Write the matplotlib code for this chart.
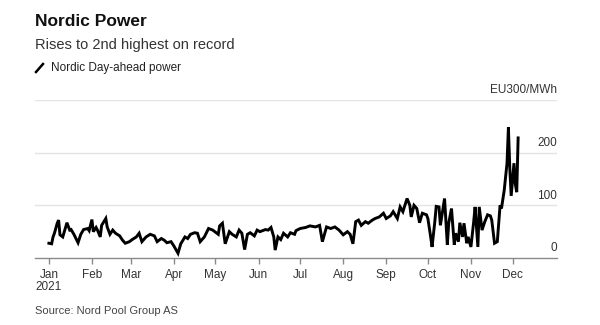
import datetime as dt
import matplotlib
matplotlib.use("Agg")
import matplotlib.pyplot as plt
import matplotlib.dates as mdates
import matplotlib.transforms as mtransforms
import matplotlib.lines as mlines

plt.rcParams["font.family"] = ["Liberation Sans", "DejaVu Sans"]

# Nordic day-ahead power, EUR/MWh (day offset from 2021-01-01)
day_offsets = [
    0, 2, 3, 4, 6, 7, 8, 10, 13, 15, 16, 18, 21, 23, 25, 28, 29, 31, 32, 34,
    35, 37, 38, 41, 42, 44, 46, 48, 51, 53, 55, 58, 60, 63, 65, 67, 70, 73, 76, 78,
    81, 83, 85, 88, 90, 93, 95, 98, 100, 102, 105, 107, 109, 112, 115, 118, 122, 123, 125, 127,
    130, 132, 135, 137, 139, 141, 143, 145, 148, 150, 152, 156, 158, 160, 162, 163, 165, 167, 169, 172,
    174, 177, 178, 181, 185, 188, 192, 195, 197, 200, 203, 206, 209, 212, 215, 217, 219, 221, 223, 225,
    228, 230, 233, 235, 238, 241, 243, 246, 248, 251, 253, 255, 258, 260, 261, 263, 265, 267, 269, 272,
    273, 275, 276, 278, 279, 281, 282, 285, 287, 288, 290, 292, 293, 295, 296, 298, 299, 301, 302, 304,
    306, 307, 309, 310, 312, 314, 316, 318, 319, 321, 323, 325, 326, 328, 330, 331, 332, 333, 335, 336,
    337, 338,
]
prices = [
    28, 27, 40, 47, 66, 72, 44, 40, 67, 53, 54, 45, 29, 45, 54, 56, 52, 73, 50, 58,
    53, 40, 62, 75, 59, 45, 53, 47, 42, 34, 28, 31, 35, 40, 47, 31, 40, 45, 42, 31,
    37, 34, 29, 31, 23, 9, 27, 40, 37, 45, 48, 47, 31, 40, 56, 53, 45, 61, 66, 27,
    50, 45, 40, 53, 47, 16, 45, 48, 42, 53, 50, 54, 53, 58, 40, 15, 40, 35, 47, 40,
    48, 45, 52, 56, 58, 61, 59, 62, 31, 59, 56, 59, 53, 44, 50, 45, 27, 69, 72, 62,
    69, 66, 72, 75, 78, 85, 75, 80, 88, 75, 97, 88, 113, 100, 78, 100, 94, 67, 85, 82,
    75, 40, 21, 69, 98, 97, 62, 113, 25, 66, 94, 25, 47, 31, 67, 40, 66, 28, 40, 21,
    69, 97, 21, 97, 53, 69, 82, 80, 72, 28, 31, 100, 94, 129, 180, 248, 170, 118, 180, 140,
    125, 228,
]

month_labels = ["Jan", "Feb", "Mar", "Apr", "May", "Jun",
                "Jul", "Aug", "Sep", "Oct", "Nov", "Dec"]
y_levels = [0, 100, 200, 300]
y_labels = ["0", "100", "200", "EU300/MWh"]

start = dt.date(2021, 1, 1)
dates = [start + dt.timedelta(days=d) for d in day_offsets]

fig = plt.figure(figsize=(6, 3.25), dpi=100)
ax = fig.add_axes([35 / 600, 67 / 325, 522 / 600, 158 / 325])

ax.set_ylim(0, 300)
ax.set_xlim(start - dt.timedelta(days=10.8), start + dt.timedelta(days=366.6))

for v in y_levels[1:]:
    ax.axhline(v, color="#e3e3e3", lw=1.0, zorder=1)

ax.plot(dates, prices, color="black", lw=2.1, solid_joinstyle="miter", zorder=3)

# y labels sit above their gridlines, right aligned
trans = mtransforms.blended_transform_factory(ax.transAxes, ax.transData)
for v, lab in zip(y_levels, y_labels):
    ax.text(1.0, v + 7, lab, transform=trans, ha="right", va="bottom",
            fontsize=8.5, color="#333333")

for s in ["top", "right", "left"]:
    ax.spines[s].set_visible(False)
ax.spines["bottom"].set_color("#8a8a8a")
ax.spines["bottom"].set_linewidth(1.0)
ax.set_yticks([])

month_ticks = [dt.date(2021, m, 1) for m in range(1, 13)]
ax.set_xticks(month_ticks)
ax.set_xticklabels(month_labels)
ax.tick_params(axis="x", length=4, width=1.0, color="#8a8a8a",
               labelsize=8.5, labelcolor="#333333", pad=4)
ax.text(mdates.date2num(month_ticks[0]), -0.185, "2021",
        transform=mtransforms.blended_transform_factory(ax.transData, ax.transAxes),
        ha="center", va="center", fontsize=8.5, color="#333333")

fig.text(35 / 600, 1 - 21 / 325, "Nordic Power", fontsize=12.5, fontweight="bold",
         color="#111111", ha="left", va="center")
fig.text(35 / 600, 1 - 45 / 325, "Rises to 2nd highest on record", fontsize=10.5,
         color="#333333", ha="left", va="center")
fig.lines.append(mlines.Line2D([36 / 600, 43 / 600], [1 - 72 / 325, 1 - 64 / 325],
                               transform=fig.transFigure, color="black", lw=1.8))
fig.text(51 / 600, 1 - 68 / 325, "Nordic Day-ahead power", fontsize=8.5,
         color="#222222", ha="left", va="center")
fig.text(35 / 600, 1 - 311 / 325, "Source: Nord Pool Group AS", fontsize=8,
         color="#444444", ha="left", va="center")

fig.savefig("out.png", dpi=100, facecolor="white")
